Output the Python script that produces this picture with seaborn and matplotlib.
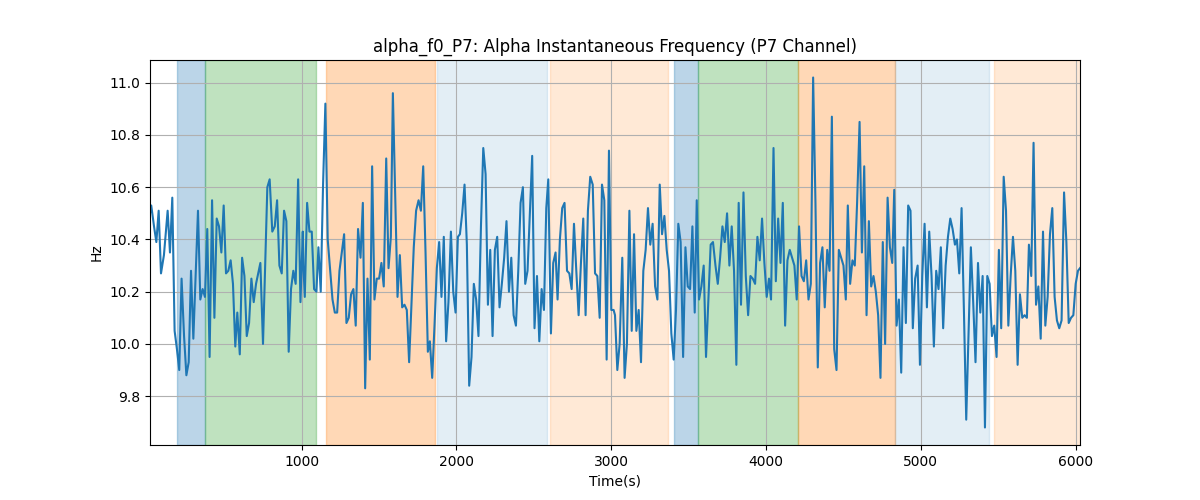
import numpy as np
import pandas as pd
import seaborn as sns
import matplotlib
matplotlib.use("Agg")
import matplotlib.pyplot as plt

# time axis (s) and alpha peak frequency (Hz)
time_s = [
    20, 28, 46, 61, 76, 91, 110, 134, 149, 164,
    179, 194, 209, 224, 240, 255, 270, 285, 300, 330,
    345, 360, 375, 390, 405, 421, 436, 451, 466, 481,
    496, 511, 526, 541, 556, 571, 584, 600, 615, 630,
    645, 660, 675, 690, 705, 733, 750, 778, 793, 810,
    826, 841, 856, 871, 886, 901, 916, 931, 946, 961,
    977, 992, 1007,
    1011, 1020, 1035, 1050, 1065, 1080, 1095, 1108, 1123, 1138,
    1153, 1168, 1184, 1199, 1214, 1229, 1244, 1259, 1274, 1289,
    1304, 1319, 1334, 1349, 1364, 1380, 1395, 1410, 1425, 1440,
    1455, 1470, 1485, 1500, 1515, 1530, 1546, 1561, 1576, 1589,
    1619, 1634, 1649, 1664, 1679, 1694, 1724, 1739, 1755, 1770,
    1785, 1800, 1815, 1828, 1843, 1858, 1873, 1888, 1903, 1918,
    1933, 1948, 1964, 1979, 1994, 2009,
    2022, 2037, 2052, 2067, 2082, 2097, 2112, 2127, 2142, 2158,
    2173, 2188, 2203, 2218, 2233, 2248, 2263, 2278, 2293, 2308,
    2323, 2339, 2354, 2369, 2384, 2399, 2414, 2429, 2444, 2459,
    2474, 2489, 2504, 2520, 2535, 2550, 2565, 2580, 2593, 2610,
    2625, 2640, 2653, 2668, 2683, 2698, 2714, 2729, 2744, 2759,
    2774, 2789, 2804, 2819, 2834, 2849, 2864, 2880, 2895, 2910,
    2925, 2940, 2955, 2970, 2985, 3000, 3015,
    3024, 3039, 3054, 3071, 3086, 3101, 3117, 3132, 3147, 3162,
    3177, 3192, 3207, 3222, 3237, 3252, 3267, 3283, 3298, 3313,
    3328, 3343, 3358, 3373, 3388, 3403, 3418, 3433, 3448, 3464,
    3479, 3494, 3509, 3524, 3539, 3552, 3567, 3582, 3597, 3612,
    3627, 3642, 3657, 3673, 3688, 3703, 3718, 3733, 3748, 3763,
    3778, 3793, 3808, 3823, 3838, 3854, 3869, 3884, 3899, 3914,
    3929, 3944, 3959, 3974, 3989, 4004, 4019,
    4032, 4048, 4063, 4078, 4093, 4108, 4123, 4138, 4153, 4168,
    4183, 4198, 4213, 4229, 4244, 4259, 4274, 4289, 4304, 4319,
    4334, 4349, 4364, 4379, 4395, 4410, 4425, 4440, 4455, 4470,
    4485, 4500, 4515, 4528, 4543, 4558, 4573, 4588, 4604, 4619,
    4634, 4649, 4664, 4679, 4694, 4709, 4724, 4739, 4754, 4769,
    4785, 4800, 4815, 4828, 4843, 4858, 4873, 4888, 4903, 4918,
    4933, 4948, 4963, 4979, 4994, 5009, 5024,
    5039, 5054, 5069, 5084, 5099, 5114, 5129, 5144, 5160, 5175,
    5190, 5205, 5220, 5233, 5248, 5263, 5278, 5293, 5308, 5323,
    5338, 5353, 5369, 5384, 5399, 5414, 5429, 5444, 5459, 5474,
    5489, 5504, 5519, 5535, 5550, 5565, 5580, 5595, 5610, 5625,
    5640, 5655, 5670, 5685, 5698, 5713, 5728, 5744, 5759, 5774,
    5789, 5804, 5819, 5834, 5849, 5864, 5879, 5894, 5909, 5925,
    5940, 5955, 5970, 5985, 6000, 6015, 6028,
]

alpha_f0 = [
    10.50, 10.53, 10.45, 10.39, 10.51, 10.27, 10.34, 10.51, 10.35, 10.56,
    10.05, 9.98, 9.90, 10.25, 10.03, 9.88, 9.93, 10.28, 10.02, 10.51,
    10.17, 10.21, 10.18, 10.44, 9.95, 10.55, 10.10, 10.48, 10.45, 10.35,
    10.53, 10.27, 10.28, 10.32, 10.23, 9.99, 10.12, 9.96, 10.33, 10.26,
    10.03, 10.08, 10.25, 10.16, 10.23, 10.31, 10.00, 10.60, 10.63, 10.43,
    10.45, 10.55, 10.30, 10.27, 10.51, 10.47, 9.97, 10.21, 10.28, 10.23,
    10.63, 10.16, 10.43,
    10.30, 10.18, 10.54, 10.43, 10.43, 10.21, 10.20, 10.37, 10.20, 10.61,
    10.92, 10.40, 10.28, 10.17, 10.12, 10.12, 10.28, 10.35, 10.42, 10.08,
    10.10, 10.19, 10.21, 10.07, 10.44, 10.33, 10.54, 9.83, 10.25, 9.94,
    10.68, 10.17, 10.25, 10.25, 10.31, 10.22, 10.71, 10.29, 10.41, 10.96,
    10.18, 10.34, 10.14, 10.15, 10.13, 9.93, 10.37, 10.51, 10.55, 10.51,
    10.68, 10.35, 9.97, 10.01, 9.87, 10.07, 10.29, 10.39, 10.18, 10.41,
    10.01, 10.16, 10.43, 10.20, 10.12, 10.41,
    10.42, 10.50, 10.61, 10.38, 9.84, 9.95, 10.23, 10.17, 10.03, 10.45,
    10.75, 10.65, 10.15, 10.36, 10.03, 10.36, 10.41, 10.14, 10.23, 10.33,
    10.47, 10.20, 10.33, 10.11, 10.07, 10.28, 10.54, 10.60, 10.23, 10.28,
    10.50, 10.72, 10.06, 10.26, 10.01, 10.21, 10.13, 10.52, 10.63, 10.04,
    10.31, 10.35, 10.17, 10.40, 10.52, 10.54, 10.28, 10.27, 10.21, 10.46,
    10.28, 10.11, 10.31, 10.48, 10.11, 10.51, 10.64, 10.61, 10.27, 10.26,
    10.10, 10.61, 10.55, 9.94, 10.74, 10.13, 10.13,
    10.11, 9.90, 10.00, 10.33, 9.87, 10.00, 10.51, 10.05, 10.42, 10.05,
    10.13, 9.93, 10.28, 10.36, 10.52, 10.38, 10.46, 10.22, 10.17, 10.61,
    10.42, 10.49, 10.36, 10.28, 10.04, 9.94, 10.13, 10.46, 10.39, 9.95,
    10.37, 10.22, 10.21, 10.45, 10.12, 10.55, 10.17, 10.22, 10.30, 9.95,
    10.16, 10.38, 10.39, 10.30, 10.23, 10.33, 10.45, 10.39, 10.50, 10.30,
    10.45, 10.28, 9.92, 10.54, 10.15, 10.58, 10.26, 10.11, 10.26, 10.25,
    10.23, 10.41, 10.32, 10.48, 10.31, 10.18, 10.25,
    10.17, 10.75, 10.24, 10.48, 10.31, 10.54, 10.07, 10.32, 10.36, 10.33,
    10.30, 10.17, 10.45, 10.26, 10.24, 10.32, 10.17, 10.23, 11.02, 10.54,
    9.91, 10.31, 10.37, 10.14, 10.36, 10.28, 10.87, 9.98, 9.90, 10.36,
    10.33, 10.30, 10.17, 10.53, 10.23, 10.32, 10.30, 10.54, 10.85, 10.35,
    10.68, 10.11, 10.47, 10.22, 10.26, 10.20, 10.11, 9.87, 10.39, 10.00,
    10.56, 10.37, 10.31, 10.59, 10.07, 10.17, 9.89, 10.37, 10.08, 10.53,
    10.51, 10.06, 10.25, 10.30, 9.92, 10.26, 10.46,
    10.14, 10.43, 10.26, 9.99, 10.28, 10.21, 10.37, 10.06, 10.30, 10.41,
    10.48, 10.44, 10.38, 10.40, 10.27, 10.52, 10.13, 9.71, 10.04, 10.37,
    10.16, 9.93, 10.31, 10.12, 10.26, 9.68, 10.26, 10.23, 10.03, 10.07,
    9.95, 10.36, 10.06, 10.64, 10.51, 10.07, 10.26, 10.41, 10.28, 9.92,
    10.19, 10.10, 10.11, 10.10, 10.38, 10.26, 10.77, 10.15, 10.22, 10.02,
    10.43, 10.07, 10.18, 10.42, 10.52, 10.18, 10.09, 10.06, 10.09, 10.58,
    10.39, 10.08, 10.10, 10.11, 10.23, 10.28, 10.29,
]

# shaded task blocks
span_starts = [197, 373, 1160, 1877, 2602, 3403, 3562, 4207, 4834, 5472]
span_ends = [373, 1091, 1858, 2584, 3369, 3562, 4207, 4832, 5437, 6040]
span_colors = ["tab:blue", "tab:green", "tab:orange", "tab:blue", "tab:orange",
               "tab:blue", "tab:green", "tab:orange", "tab:blue", "tab:orange"]
span_alphas = [0.3, 0.3, 0.3, 0.12, 0.17, 0.3, 0.3, 0.3, 0.12, 0.17]

df = pd.DataFrame({"Time(s)": time_s, "Hz": alpha_f0})

fig, ax = plt.subplots(figsize=(12, 5), dpi=100)

for s, e, c, a in zip(span_starts, span_ends, span_colors, span_alphas):
    ax.axvspan(s, e, color=c, alpha=a)

sns.lineplot(data=df, x="Time(s)", y="Hz", ax=ax, color="tab:blue", linewidth=1.5)

ax.set_xlim(time_s[0], time_s[-1])
ax.grid(True)
ax.set_title("alpha_f0_P7: Alpha Instantaneous Frequency (P7 Channel)")
ax.set_xlabel("Time(s)")
ax.set_ylabel("Hz")

fig.savefig("out.png")
